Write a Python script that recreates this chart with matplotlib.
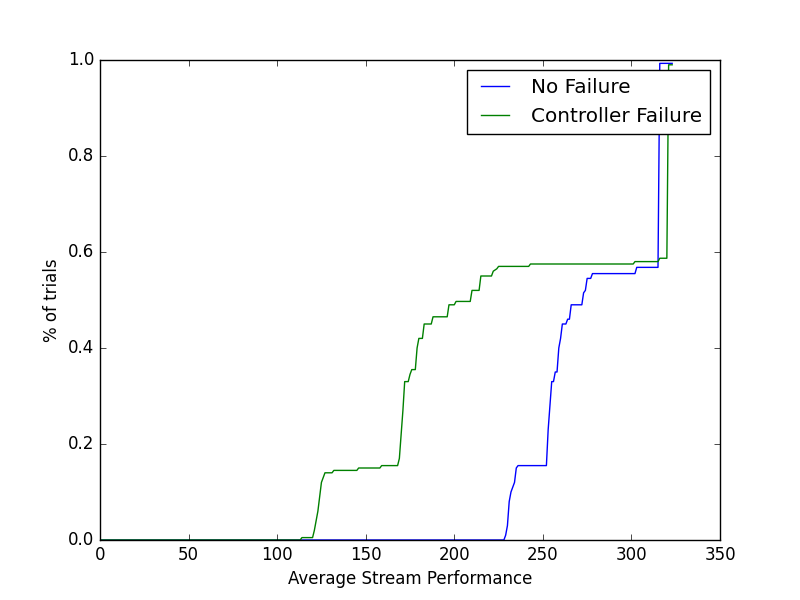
import matplotlib
matplotlib.use('Agg')
import matplotlib.pyplot as plt

plt.style.use('classic')

# no failure curve
nf_x = [0, 228, 229, 230, 231, 232, 234, 235, 236, 252, 253, 254, 255, 256, 257, 258,
        259, 260, 261, 263, 264, 265, 266, 272, 273, 274, 275, 277, 278, 302, 303,
        315, 316, 323]
nf_y = [0, 0, 0.01, 0.03, 0.08, 0.10, 0.12, 0.15, 0.155, 0.155, 0.23, 0.28, 0.33, 0.33,
        0.35, 0.35, 0.40, 0.42, 0.45, 0.45, 0.46, 0.46, 0.49, 0.49, 0.515, 0.52, 0.545,
        0.545, 0.555, 0.555, 0.568, 0.568, 0.993, 0.993]

# controller failure curve
cf_x = [0, 113, 114, 120, 121, 122, 123, 124, 125, 127, 131, 132, 145, 146, 158, 159,
        168, 169, 170, 171, 172, 174, 175, 176, 178, 179, 180, 182, 183, 187, 188,
        196, 197, 200, 201, 209, 210, 214, 215, 221, 222, 224, 225, 242, 243, 301,
        302, 315, 316, 320, 321, 323]
cf_y = [0, 0, 0.005, 0.005, 0.02, 0.04, 0.06, 0.09, 0.12, 0.14, 0.14, 0.145, 0.145,
        0.15, 0.15, 0.155, 0.155, 0.17, 0.22, 0.27, 0.33, 0.33, 0.345, 0.355, 0.355,
        0.40, 0.42, 0.42, 0.45, 0.45, 0.465, 0.465, 0.49, 0.49, 0.497, 0.497, 0.52,
        0.52, 0.55, 0.55, 0.56, 0.565, 0.57, 0.57, 0.575, 0.575, 0.58, 0.58, 0.587,
        0.587, 0.99, 0.99]

fig = plt.figure(figsize=(8, 6), dpi=100)
ax = fig.add_subplot(111)
ax.plot(nf_x, nf_y, color='b', label='No Failure')
ax.plot(cf_x, cf_y, color='g', label='Controller Failure')
ax.set_xlim(0, 350)
ax.set_ylim(0, 1.0)
ax.set_xlabel('Average Stream Performance')
ax.set_ylabel('% of trials')
ax.legend(loc='upper right', fontsize='large')

fig.savefig('out.png', dpi=100)
